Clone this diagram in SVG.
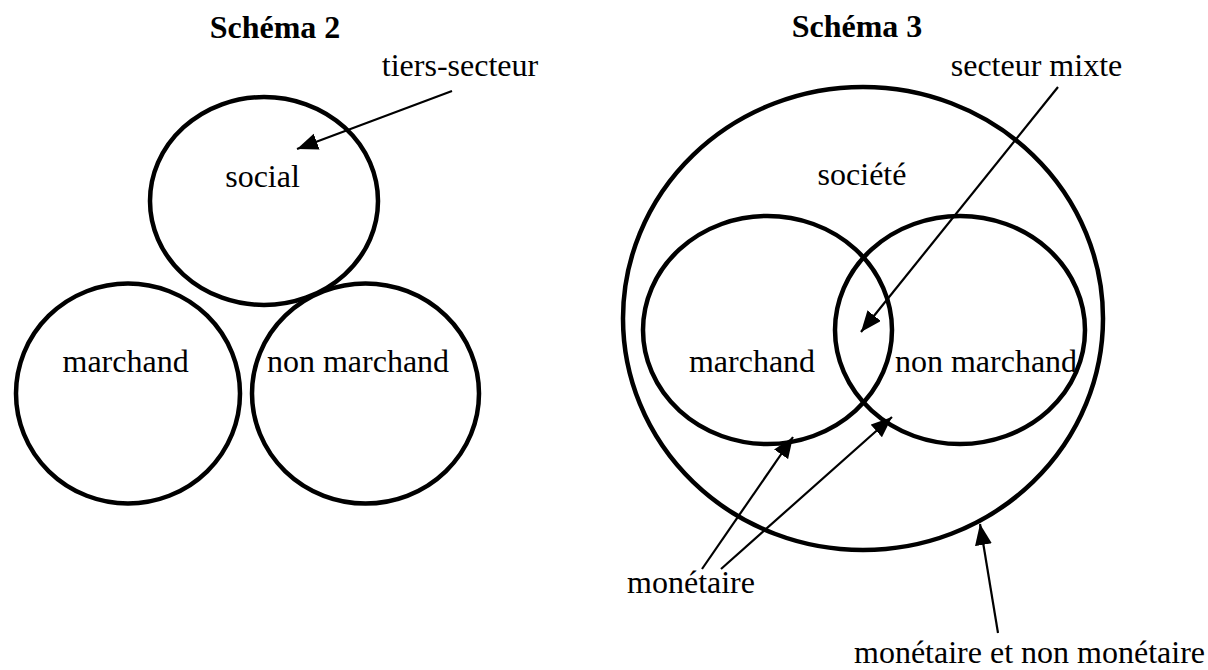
<svg xmlns="http://www.w3.org/2000/svg" width="1208" height="670" viewBox="0 0 1208 670">
<style>
  .c { fill: none; stroke: #000; stroke-width: 4.5; }
  .t { font-family: "Liberation Serif", "Times New Roman", serif; font-size: 32px; fill: #000; text-anchor: middle; }
  .b { font-weight: bold; }
  .a { stroke: #000; stroke-width: 2.2; fill: none; marker-end: url(#ah); }
</style>
<defs>
  <marker id="ah" markerUnits="userSpaceOnUse" markerWidth="22" markerHeight="18" refX="21" refY="8.5" orient="auto">
    <path d="M0,0 L21,8.5 L0,17 z" fill="#000"/>
  </marker>
</defs>
<rect width="1208" height="670" fill="#fff"/>

<g id="titles">
  <text class="t b" x="275" y="38">Schéma 2</text>
  <text class="t b" x="857" y="37">Schéma 3</text>
</g>

<g id="s2-social">
  <ellipse class="c" cx="264" cy="201" rx="114" ry="104"/>
  <text class="t" x="262.5" y="187">social</text>
</g>
<g id="s2-marchand">
  <ellipse class="c" cx="128" cy="393.5" rx="112" ry="110"/>
  <text class="t" x="125.6" y="372">marchand</text>
</g>
<g id="s2-nonmarchand">
  <ellipse class="c" cx="365.5" cy="393.5" rx="113.5" ry="110"/>
  <text class="t" x="358" y="372">non marchand</text>
</g>
<g id="s2-tiers-secteur">
  <text class="t" x="460" y="76">tiers-secteur</text>
</g>

<g id="s3-societe">
  <ellipse class="c" cx="863" cy="318.5" rx="240" ry="231.5"/>
  <text class="t" x="862" y="185">société</text>
</g>
<g id="s3-marchand">
  <ellipse class="c" cx="767.5" cy="330" rx="124.5" ry="114"/>
  <text class="t" x="752" y="372">marchand</text>
</g>
<g id="s3-nonmarchand">
  <ellipse class="c" cx="960" cy="330" rx="125" ry="114"/>
  <text class="t" x="986" y="372">non marchand</text>
</g>
<g id="s3-secteur-mixte">
  <text class="t" x="1036.5" y="76">secteur mixte</text>
</g>
<g id="s3-monetaire">
  <text class="t" x="691" y="593">monétaire</text>
</g>
<g id="s3-monetaire-non">
  <text class="t" x="1029.5" y="663">monétaire et non monétaire</text>
</g>

<g id="connectors">
  <line class="a" x1="452" y1="91" x2="297" y2="149"/>
  <line class="a" x1="1058" y1="87" x2="861" y2="332"/>
  <line class="a" x1="702" y1="569" x2="793" y2="437"/>
  <line class="a" x1="721" y1="569" x2="892" y2="417"/>
  <line class="a" x1="998" y1="633" x2="980" y2="524"/>
</g>
</svg>
